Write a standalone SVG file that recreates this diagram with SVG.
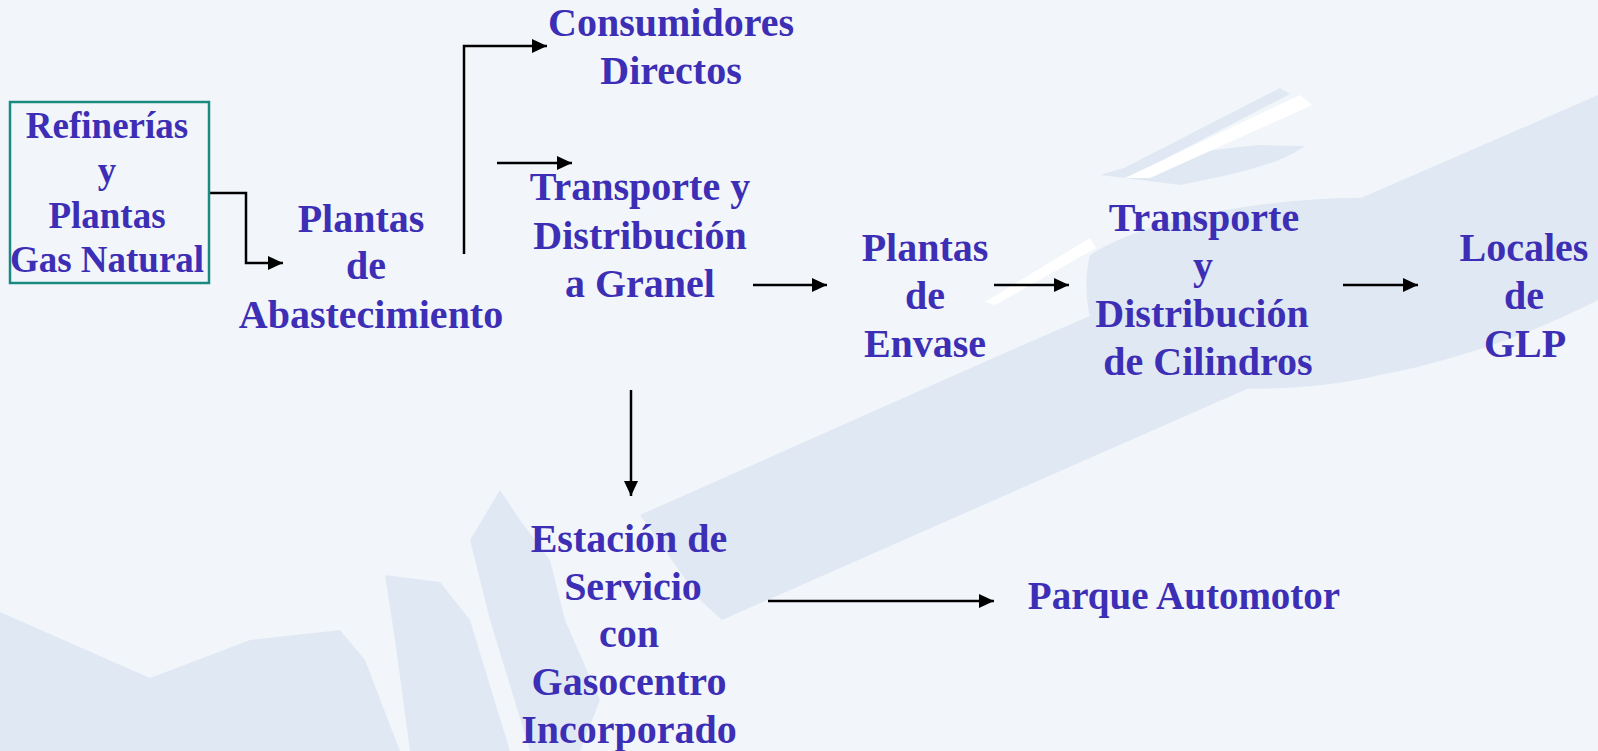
<svg xmlns="http://www.w3.org/2000/svg" width="1598" height="751" viewBox="0 0 1598 751">
<style>
.t{font-family:"Liberation Serif","Times New Roman",serif;font-weight:bold;font-size:40px;fill:#3d2fb5;text-anchor:middle}
.s{font-size:37px}
.c{fill:none;stroke:#000;stroke-width:2.5;marker-end:url(#ah)}
.w{fill:#e0e9f3}
</style>
<defs>
<marker id="ah" markerUnits="userSpaceOnUse" markerWidth="15" markerHeight="15" refX="15" refY="7.5" orient="auto">
<path d="M0,0.5 L15,7.5 L0,14.5 Z" fill="#000"/>
</marker>
</defs>
<rect width="1598" height="751" fill="#f2f6fb"/>
<g id="watermark">
<path class="w" d="M640,515 L1000,355 L1598,95 L1598,235 L1274,377 L722,620 L700,600 Z"/>
<path class="w" d="M1090,255 C1150,215 1300,190 1420,200 C1500,180 1560,150 1598,140 L1598,300 C1540,330 1460,360 1380,375 C1300,395 1200,390 1130,380 C1090,360 1080,290 1090,255 Z"/>
<path class="w" d="M1100,175 C1150,160 1200,150 1260,145 L1305,146 C1280,165 1230,175 1180,185 Z"/>
<path class="w" d="M1120,170 L1280,88 L1290,94 L1140,172 Z"/>
<path fill="#ffffff" d="M1125,178 L1300,95 L1312,105 L1150,178 Z"/>
<path fill="#ffffff" d="M985,302 L1090,238 L1096,248 L995,305 Z"/>
<path class="w" d="M0,612 L150,678 L250,640 L340,630 L365,660 L400,751 L0,751 Z"/>
<path class="w" d="M385,575 L440,582 L470,620 L510,751 L410,751 L395,640 Z"/>
<path class="w" d="M500,490 L520,520 L550,560 L565,620 L600,700 L580,751 L530,751 L490,620 L470,540 Z"/>
</g>
<g id="connectors">
<path class="c" d="M209,193 H246 V263 H283"/>
<path class="c" d="M464,254 V46 H547"/>
<path class="c" d="M497,163 H572"/>
<path class="c" d="M753,285 H827"/>
<path class="c" d="M994,285 H1069"/>
<path class="c" d="M1343,285 H1418"/>
<path class="c" d="M631,390 V496"/>
<path class="c" d="M768,601 H994"/>
</g>
<g id="refinerias">
<rect x="10" y="102" width="199" height="181" fill="none" stroke="#1a8a80" stroke-width="2.5"/>
<text class="t s" x="107" y="138">Refinerías</text>
<text class="t s" x="107" y="183">y</text>
<text class="t s" x="107" y="228">Plantas</text>
<text class="t s" x="107" y="272">Gas Natural</text>
</g>
<g id="abastecimiento">
<text class="t" x="361" y="232">Plantas</text>
<text class="t" x="366" y="279">de</text>
<text class="t" x="371" y="328">Abastecimiento</text>
</g>
<g id="consumidores">
<text class="t" x="671" y="36">Consumidores</text>
<text class="t" x="671" y="84">Directos</text>
</g>
<g id="granel">
<text class="t" x="640" y="200">Transporte y</text>
<text class="t" x="640" y="249">Distribución</text>
<text class="t" x="640" y="297">a Granel</text>
</g>
<g id="envase">
<text class="t" x="925" y="261">Plantas</text>
<text class="t" x="925" y="309">de</text>
<text class="t" x="925" y="357">Envase</text>
</g>
<g id="cilindros">
<text class="t" x="1204" y="231">Transporte</text>
<text class="t" x="1203" y="279">y</text>
<text class="t" x="1202" y="327">Distribución</text>
<text class="t" x="1208" y="375">de Cilindros</text>
</g>
<g id="locales">
<text class="t" x="1524" y="261">Locales</text>
<text class="t" x="1524" y="309">de</text>
<text class="t" x="1525" y="357">GLP</text>
</g>
<g id="estacion">
<text class="t" x="629" y="552">Estación de</text>
<text class="t" x="633" y="600">Servicio</text>
<text class="t" x="629" y="647">con</text>
<text class="t" x="629" y="695">Gasocentro</text>
<text class="t" x="629" y="743">Incorporado</text>
</g>
<g id="parque">
<text class="t" x="1184" y="609" style="font-size:39px">Parque Automotor</text>
</g>
</svg>
